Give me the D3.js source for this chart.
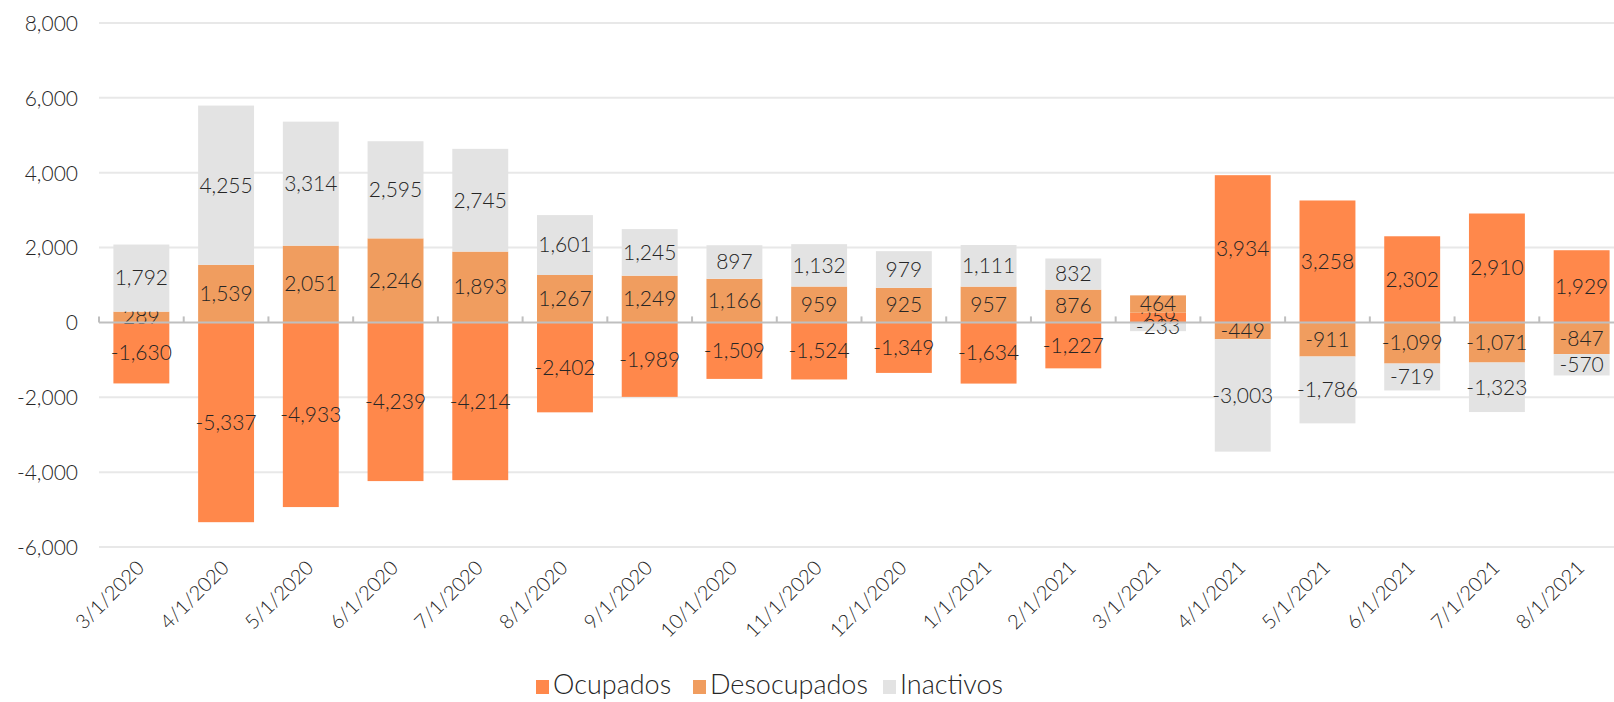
<!DOCTYPE html>
<html>
<head>
<meta charset="utf-8">
<script src="https://cdn.jsdelivr.net/npm/d3@7"></script>
<style>
  body { margin: 0; background: #fff; }
  svg text { font-family: "Lato", "Open Sans", sans-serif; font-weight: 300; fill: #262626; }
</style>
</head>
<body>
<svg id="chart"></svg>
<script>
// data
const months = ["3/1/2020", "4/1/2020", "5/1/2020", "6/1/2020", "7/1/2020", "8/1/2020",
  "9/1/2020", "10/1/2020", "11/1/2020", "12/1/2020", "1/1/2021", "2/1/2021",
  "3/1/2021", "4/1/2021", "5/1/2021", "6/1/2021", "7/1/2021", "8/1/2021"];
const ocupados = [-1630, -5337, -4933, -4239, -4214, -2402, -1989, -1509, -1524, -1349, -1634, -1227,
  259, 3934, 3258, 2302, 2910, 1929];
const desocupados = [289, 1539, 2051, 2246, 1893, 1267, 1249, 1166, 959, 925, 957, 876,
  464, -449, -911, -1099, -1071, -847];
const inactivos = [1792, 4255, 3314, 2595, 2745, 1601, 1245, 897, 1132, 979, 1111, 832,
  -233, -3003, -1786, -719, -1323, -570];
const yTicks = [-6000, -4000, -2000, 0, 2000, 4000, 6000, 8000];

const seriesNames = ["Ocupados", "Desocupados", "Inactivos"];
const colors = { Ocupados: "#FF884B", Desocupados: "#F09D5F", Inactivos: "#E3E3E3" };

const rows = months.map((m, i) => ({
  month: m,
  Ocupados: ocupados[i],
  Desocupados: desocupados[i],
  Inactivos: inactivos[i]
}));

const W = 1614, H = 702;
const margin = { top: 23, right: -10, bottom: 155, left: 99 };

const svg = d3.select("#chart").attr("width", W).attr("height", H);

// plain hyphen for negatives, like the original
const fmt = v => d3.format(",")(v).replace("\u2212", "-");

const x = d3.scaleBand()
  .domain(months)
  .range([margin.left, W - margin.right])
  .paddingInner(0.34)
  .paddingOuter(0.17);

const y = d3.scaleLinear()
  .domain([-6000, 8000])
  .range([H - margin.bottom, margin.top]);

// grid
svg.append("g")
  .selectAll("line")
  .data(yTicks.filter(d => d !== 0))
  .join("line")
  .attr("x1", margin.left).attr("x2", W)
  .attr("y1", d => y(d)).attr("y2", d => y(d))
  .attr("stroke", "#E8E8E8")
  .attr("stroke-width", 2);

// y labels
svg.append("g")
  .attr("transform", `translate(${margin.left - 18},0)`)
  .call(d3.axisLeft(y).tickValues(yTicks).tickFormat(fmt).tickSize(0))
  .call(g => g.select(".domain").remove())
  .selectAll("text")
  .attr("dy", "0.35em")
  .style("font-size", "21px");

const stacked = d3.stack()
  .keys(seriesNames)
  .offset(d3.stackOffsetDiverging)(rows);

const layers = svg.append("g")
  .selectAll("g")
  .data(stacked)
  .join("g")
  .attr("fill", d => colors[d.key]);

layers.selectAll("rect")
  .data(d => d)
  .join("rect")
  .attr("x", d => x(d.data.month))
  .attr("width", x.bandwidth())
  .attr("y", d => y(Math.max(d[0], d[1])))
  .attr("height", d => Math.abs(y(d[0]) - y(d[1])));

// zero axis with small ticks between categories
const zeroY = y(0);
svg.append("line")
  .attr("x1", margin.left).attr("x2", W)
  .attr("y1", zeroY).attr("y2", zeroY)
  .attr("stroke", "#BFBFBF")
  .attr("stroke-width", 2);

svg.append("g")
  .selectAll("line")
  .data(months)
  .join("line")
  .attr("x1", d => x(d) - x.step() * x.paddingInner() / 2)
  .attr("x2", d => x(d) - x.step() * x.paddingInner() / 2)
  .attr("y1", zeroY).attr("y2", zeroY - 6)
  .attr("stroke", "#BFBFBF")
  .attr("stroke-width", 2);

// value labels
layers.selectAll("text")
  .data(d => d.map(v => Object.assign({ key: d.key }, v)))
  .join("text")
  .attr("x", d => x(d.data.month) + x.bandwidth() / 2)
  .attr("y", d => y((d[0] + d[1]) / 2))
  .attr("dy", "0.35em")
  .attr("text-anchor", "middle")
  .style("font-size", "21px")
  .text(d => fmt(d.data[d.key]));

// x labels
svg.append("g")
  .selectAll("text")
  .data(months)
  .join("text")
  .attr("text-anchor", "end")
  .attr("transform", d => `translate(${x(d) + x.bandwidth() / 2 + 4},${H - margin.bottom + 22}) rotate(-45)`)
  .style("font-size", "20px")
  .text(d => d);

// legend
const legend = svg.append("g").attr("transform", `translate(0,684)`);
const legendX = [536, 693, 883];
seriesNames.forEach((name, i) => {
  const g = legend.append("g").attr("transform", `translate(${legendX[i]},0)`);
  g.append("rect")
    .attr("x", 0).attr("y", -4)
    .attr("width", 13).attr("height", 14)
    .attr("fill", colors[name]);
  g.append("text")
    .attr("x", 17)
    .attr("dy", "0.36em")
    .style("font-size", "27px")
    .text(name);
});
</script>
</body>
</html>
